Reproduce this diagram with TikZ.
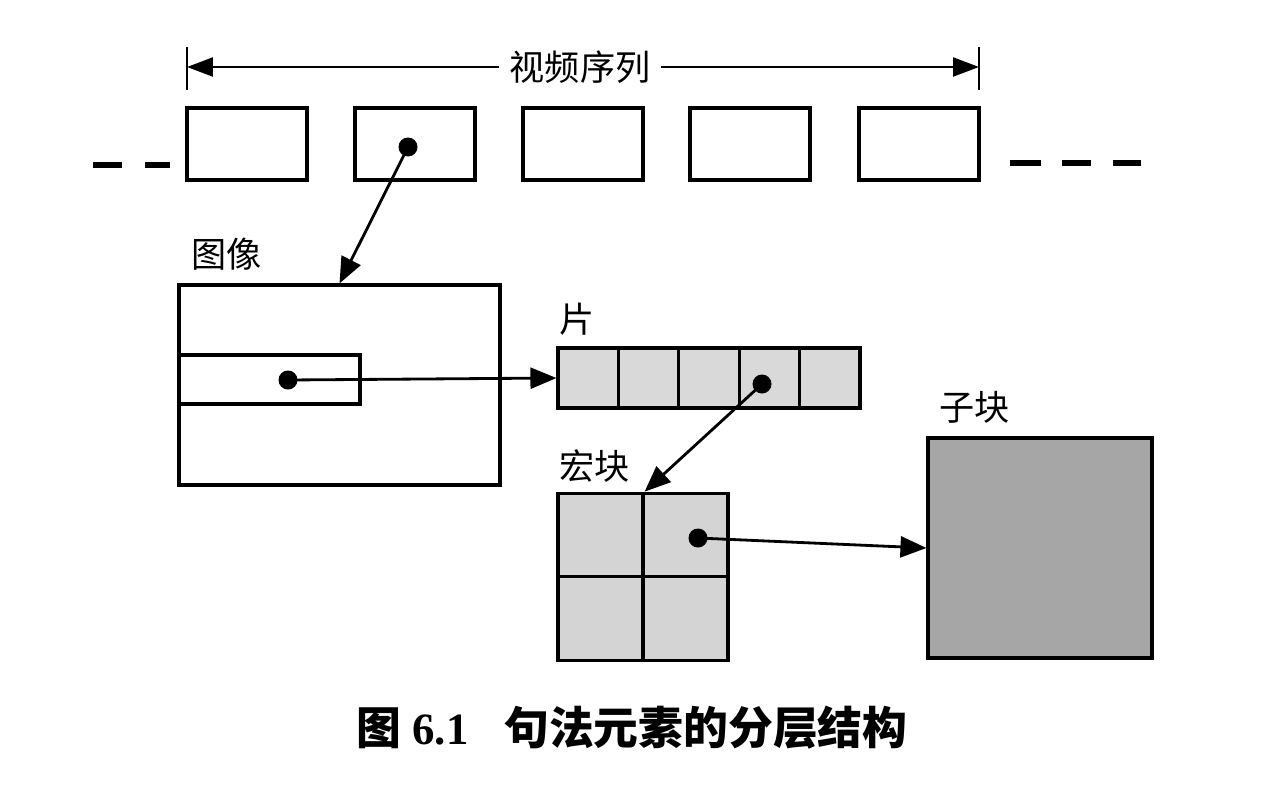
\documentclass[tikz,border=0pt]{standalone}
\usepackage{fontspec}
\setmainfont{Liberation Serif}
\newfontfamily\cjk{Noto Sans CJK SC}
\usetikzlibrary{arrows.meta}
\tikzset{
  box/.style={draw, line width=1.8pt, inner sep=0pt, fill=white},
  frame/.style={box, minimum width=2.4cm, minimum height=1.44cm},
  cell/.style={box, fill=black!15, minimum width=1.208cm, minimum height=1.2cm},
  mbq/.style={box, fill=black!17, minimum width=1.7cm, minimum height=1.67cm},
  dot/.style={circle, fill=black, inner sep=0pt, minimum size=0.38cm},
  link/.style={line width=1.6pt, -{Triangle[length=0.52cm,width=0.42cm]}, shorten <=-0.19cm},
  lbl/.style={font=\cjk\fontsize{20}{23}\selectfont, inner sep=0pt},
  gapline/.style={line width=3pt}
}
\begin{document}
\begin{tikzpicture}[x=0.02cm,y=-0.02cm]
\useasboundingbox[fill=white] (0,0) rectangle (1280,798);
\foreach \x [count=\i] in {247,415,583,750,919}
  \node[frame] (f\i) at (\x,144) {};
\node[lbl, fill=white, inner xsep=6pt] (seq) at (580,67) {视频序列};
\coordinate (sl) at (187,67);
\coordinate (sr) at (979,67);
\draw[line width=1.3pt] (187,47) -- (187,90) (979,47) -- (979,90);
\draw[line width=1.3pt, -{Triangle[length=0.52cm,width=0.38cm]}] (seq) -- (sl);
\draw[line width=1.3pt, -{Triangle[length=0.52cm,width=0.38cm]}] (seq) -- (sr);
\draw[gapline] (93,165) -- (122,165) (145,165) -- (170,165);
\draw[gapline] (1010,163) -- (1041,163) (1062,163) -- (1091,163) (1113,163) -- (1141,163);
\node[dot] (d1) at (408,147) {};
\node[box, minimum width=6.42cm, minimum height=4cm] (pic) at (339.5,385) {};
\node[lbl, anchor=south west] at (191,271) {图像};
\draw[link] (d1) -- (pic.north);
\node[box, minimum width=3.62cm, minimum height=0.98cm] (inner) at (269.5,379.5) {};
\node[dot] (d2) at (288,380) {};
\foreach \i in {0,...,4}
  \node[cell] (c\i) at ({588.2+60.4*\i},378) {};
\node[lbl, anchor=south west] at (559,336) {片};
\draw[link] (d2) -- (c0.west);
\node[mbq] (m11) at (600.5,535) {};
\node[mbq] (m12) at (685.5,535) {};
\node[mbq] (m21) at (600.5,618.5) {};
\node[mbq] (m22) at (685.5,618.5) {};
\node[lbl, anchor=south west] at (559,483) {宏块};
\node[dot] (d3) at (762,384) {};
\draw[link] (d3) -- (m11.north east);
\node[box, fill=black!35, minimum width=4.48cm, minimum height=4.4cm] (sub) at (1040,548) {};
\node[lbl, anchor=south west] at (939,424) {子块};
\node[dot] (d4) at (698,538) {};
\draw[link] (d4) -- (sub.west);
\node[font=\fontsize{25.5}{29}\selectfont\bfseries, inner sep=0pt] (cap) at (632,728)
  {{\cjk 图} 6.1\hspace{0.8em}{\cjk 句法元素的分层结构}};
\end{tikzpicture}
\end{document}
